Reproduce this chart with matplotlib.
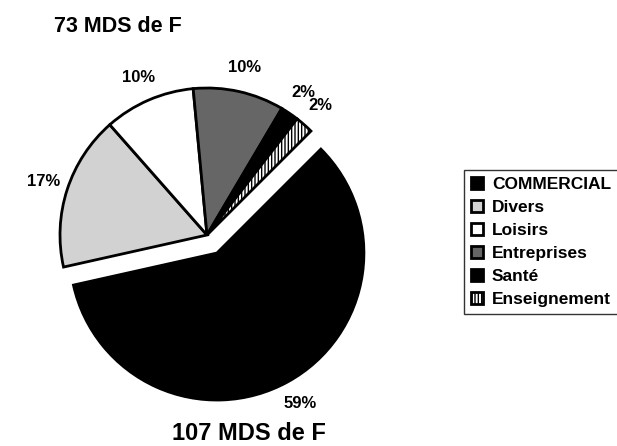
import matplotlib
matplotlib.use("Agg")
import matplotlib.pyplot as plt

plt.rcParams['font.family'] = ['Liberation Sans', 'DejaVu Sans']
plt.rcParams['font.weight'] = 'bold'

categories = ['COMMERCIAL', 'Divers', 'Loisirs', 'Entreprises', 'Santé', 'Enseignement']
shares = [59, 17, 10, 10, 2, 2]
colors = ['black', '#d2d2d2', 'white', '#666666', 'black', 'white']
hatches = [None, None, None, None, None, '|||||']
explode = [0.14, 0, 0, 0, 0, 0]
top_title = '73 MDS de F'
bottom_title = '107 MDS de F'

W, H = 617, 446
fig = plt.figure(figsize=(W / 100, H / 100), dpi=100)
ax = fig.add_axes([0, 0, 1, 1])

# pie centre / radius in pixels
cx, cy, r = 207, 235, 147

wedges, texts, autotexts = ax.pie(
    shares, colors=colors, explode=explode, startangle=45, counterclock=False,
    autopct='%.0f%%', pctdistance=1.17,
    wedgeprops=dict(edgecolor='black', linewidth=2),
    textprops=dict(fontsize=12, fontweight='bold', color='black'))
for w, h in zip(wedges, hatches):
    if h:
        w.set_hatch(h)

ax.set_xlim(-cx / r, (W - cx) / r)
ax.set_ylim((cy - H) / r, cy / r)
ax.set_aspect('equal')
ax.axis('off')

fig.text(118 / W, 1 - 27 / H, top_title, ha='center', va='center',
         fontsize=15.5, fontweight='bold')
fig.text(249 / W, 1 - 434 / H, bottom_title, ha='center', va='center',
         fontsize=17, fontweight='bold')

leg = fig.legend(wedges, categories, loc='upper left',
                 bbox_to_anchor=(464 / W, 1 - 170 / H),
                 prop=dict(size=12.5, weight='bold'), frameon=True, fancybox=False,
                 edgecolor='black', handlelength=0.7, handleheight=0.7,
                 handletextpad=0.5, labelspacing=0.45, borderpad=0.4,
                 borderaxespad=0)
leg.get_frame().set_linewidth(1)

fig.savefig('out.png', dpi=100)
